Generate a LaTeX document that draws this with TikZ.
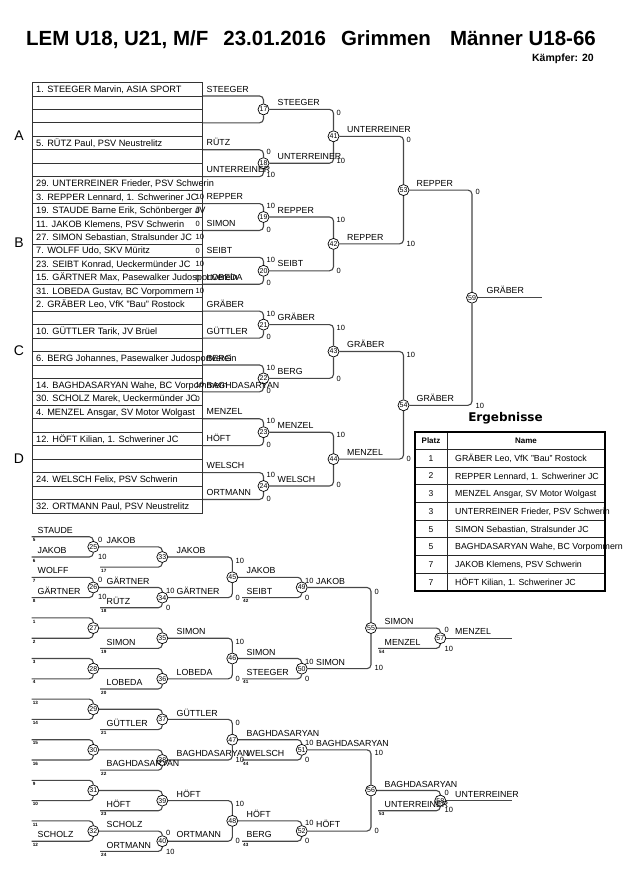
\documentclass[tikz,border=0pt]{standalone}
\usepackage{fontspec}
\setmainfont{Liberation Sans}
\newfontfamily\djv{DejaVu Sans}
\pgfdeclarelayer{bg}
\pgfsetlayers{bg,main}
\newcounter{tn}
\newcommand\GU[1]{(82.5+13.45*(#1))}
\newcommand\GL[1]{(536.7+10.15*(#1))}
\newcommand\bm[3]{\node[mc] (m#1) at (#2,{#3}) {#1};}
\newcommand\bt[4][lbl]{\stepcounter{tn}\node[#1] (t\arabic{tn}) at (#2,{#3}) {#4};}
\newcommand\bi[4]{\coordinate (#1) at (#2,{#3}); \draw[bl] (#1) -| (#4);}
\newcommand\bc[2]{\draw[bl] (#1.east) -| (#2);}
\begin{document}
\begin{tikzpicture}[x=1pt,y=-1pt,
 mc/.style={circle,draw=black,fill=white,line width=0.7pt,minimum size=11pt,inner sep=0pt,font=\fontsize{7}{7}\selectfont},
 bl/.style={draw=black!72,line width=1.1pt,rounded corners=4pt},
 lstl/.style={draw=black!80,line width=0.8pt},
 lbl/.style={anchor=west,inner sep=0pt,text height=6.3pt,text depth=0pt,font=\fontsize{8.8}{10}\selectfont},
 lst/.style={anchor=west,inner sep=0pt,text height=6.6pt,text depth=0pt,font=\fontsize{9.2}{10}\selectfont},
 sc/.style={anchor=west,inner sep=0pt,text height=5.4pt,text depth=0pt,font=\fontsize{7.5}{8}\selectfont},
 sd/.style={anchor=west,inner sep=0pt,text height=3.3pt,text depth=0pt,font=\bfseries\fontsize{4.6}{5}\selectfont},
 ttl/.style={anchor=west,inner sep=0pt,text height=14.7pt,text depth=0pt,font=\bfseries\fontsize{20.5}{24}\selectfont},
 kmp/.style={anchor=east,inner sep=0pt,text height=7.5pt,text depth=0pt,font=\bfseries\fontsize{10.5}{12}\selectfont},
 pl/.style={anchor=center,inner sep=0pt,text height=10pt,text depth=0pt,font=\fontsize{14}{16}\selectfont},
 erg/.style={anchor=center,inner sep=0pt,text height=8.8pt,text depth=0pt,font=\djv\bfseries\fontsize{12}{14}\selectfont},
 th/.style={anchor=center,inner sep=0pt,text height=5.8pt,text depth=0pt,font=\bfseries\fontsize{8}{9}\selectfont},
 tc/.style={anchor=center,inner sep=0pt,text height=6pt,text depth=0pt,font=\fontsize{8.5}{9}\selectfont},
 tname/.style={anchor=west,inner sep=0pt,text height=6.3pt,text depth=0pt,font=\fontsize{8.8}{10}\selectfont},
 tbo/.style={draw=black,line width=1.6pt},
 tbi/.style={draw=black!85,line width=0.9pt}
 ]
\useasboundingbox (0,0) rectangle (630,891);

% ---------- title ----------
\bt[ttl]{26}{38.5}{LEM U18, U21, M/F\hspace{15pt}23.01.2016\hspace{15pt}Grimmen\hspace{19pt}Männer U18-66}
\bt[kmp]{594}{58}{Kämpfer: 20}

% ---------- pool letters ----------
\bt[pl]{19}{135}{A}
\bt[pl]{19}{242}{B}
\bt[pl]{19}{350}{C}
\bt[pl]{19}{458}{D}

% ---------- list ----------
\draw[lstl] (32.5,{\GU{0}}) rectangle (202,{\GU{32}});
\foreach \k in {1,...,31} \draw[lstl] (32.5,{\GU{\k}}) -- (202,{\GU{\k}});
\bt[lst]{36}{\GU{1}-6.7}{1. STEEGER Marvin, ASIA SPORT}
\bt[lst]{36}{\GU{5}-6.7}{5. RÜTZ Paul, PSV Neustrelitz}
\bt[lst]{36}{\GU{8}-6.7}{29. UNTERREINER Frieder, PSV Schwerin}
\bt[lst]{36}{\GU{9}-6.7}{3. REPPER Lennard, 1. Schweriner JC}
\bt[lst]{36}{\GU{10}-6.7}{19. STAUDE Barne Erik, Schönberger JV}
\bt[lst]{36}{\GU{11}-6.7}{11. JAKOB Klemens, PSV Schwerin}
\bt[lst]{36}{\GU{12}-6.7}{27. SIMON Sebastian, Stralsunder JC}
\bt[lst]{36}{\GU{13}-6.7}{7. WOLFF Udo, SKV Müritz}
\bt[lst]{36}{\GU{14}-6.7}{23. SEIBT Konrad, Ueckermünder JC}
\bt[lst]{36}{\GU{15}-6.7}{15. GÄRTNER Max, Pasewalker Judosportverein}
\bt[lst]{36}{\GU{16}-6.7}{31. LOBEDA Gustav, BC Vorpommern}
\bt[lst]{36}{\GU{17}-6.7}{2. GRÄBER Leo, VfK "Bau" Rostock}
\bt[lst]{36}{\GU{19}-6.7}{10. GÜTTLER Tarik, JV Brüel}
\bt[lst]{36}{\GU{21}-6.7}{6. BERG Johannes, Pasewalker Judosportverein}
\bt[lst]{36}{\GU{23}-6.7}{14. BAGHDASARYAN Wahe, BC Vorpommern}
\bt[lst]{36}{\GU{24}-6.7}{30. SCHOLZ Marek, Ueckermünder JC}
\bt[lst]{36}{\GU{25}-6.7}{4. MENZEL Ansgar, SV Motor Wolgast}
\bt[lst]{36}{\GU{27}-6.7}{12. HÖFT Kilian, 1. Schweriner JC}
\bt[lst]{36}{\GU{30}-6.7}{24. WELSCH Felix, PSV Schwerin}
\bt[lst]{36}{\GU{32}-6.7}{32. ORTMANN Paul, PSV Neustrelitz}
% pre-round scores
\bt[sc]{195.5}{\GU{9}-6.7}{10}
\bt[sc]{195.5}{\GU{10}-6.7}{0}
\bt[sc]{195.5}{\GU{11}-6.7}{0}
\bt[sc]{195.5}{\GU{12}-6.7}{10}
\bt[sc]{195.5}{\GU{13}-6.7}{0}
\bt[sc]{195.5}{\GU{14}-6.7}{10}
\bt[sc]{195.5}{\GU{15}-6.7}{0}
\bt[sc]{195.5}{\GU{16}-6.7}{10}
\bt[sc]{195.5}{\GU{23}-6.7}{10}
\bt[sc]{195.5}{\GU{24}-6.7}{0}

% ---------- main bracket circles ----------
\bm{17}{263.5}{\GU{2}} \bm{18}{263.5}{\GU{6}} \bm{19}{263.5}{\GU{10}} \bm{20}{263.5}{\GU{14}}
\bm{21}{263.5}{\GU{18}} \bm{22}{263.5}{\GU{22}} \bm{23}{263.5}{\GU{26}} \bm{24}{263.5}{\GU{30}}
\bm{41}{333.5}{\GU{4}} \bm{42}{333.5}{\GU{12}} \bm{43}{333.5}{\GU{20}} \bm{44}{333.5}{\GU{28}}
\bm{53}{403.5}{\GU{8}} \bm{54}{403.5}{\GU{24}}
\bm{59}{472}{\GU{16}}

% ---------- repechage circles ----------
\bm{25}{93.3}{\GL{1}} \bm{26}{93.3}{\GL{5}} \bm{27}{93.3}{\GL{9}} \bm{28}{93.3}{\GL{13}}
\bm{29}{93.3}{\GL{17}} \bm{30}{93.3}{\GL{21}} \bm{31}{93.3}{\GL{25}} \bm{32}{93.3}{\GL{29}}
\bm{33}{162.3}{\GL{2}} \bm{34}{162.3}{\GL{6}} \bm{35}{162.3}{\GL{10}} \bm{36}{162.3}{\GL{14}}
\bm{37}{162.3}{\GL{18}} \bm{38}{162.3}{\GL{22}} \bm{39}{162.3}{\GL{26}} \bm{40}{162.3}{\GL{30}}
\bm{45}{232.3}{\GL{4}} \bm{46}{232.3}{\GL{12}} \bm{47}{232.3}{\GL{20}} \bm{48}{232.3}{\GL{28}}
\bm{49}{301.7}{\GL{5}} \bm{50}{301.7}{\GL{13}} \bm{51}{301.7}{\GL{21}} \bm{52}{301.7}{\GL{29}}
\bm{55}{371}{\GL{9}} \bm{56}{371}{\GL{25}}
\bm{57}{440.3}{\GL{10}} \bm{58}{440.3}{\GL{26}}

% ---------- connectors ----------
\begin{pgfonlayer}{bg}
\bi{i17a}{202}{\GU{1}}{m17.north} \bi{i17b}{202}{\GU{3}}{m17.south}
\bi{i18a}{202}{\GU{5}}{m18.north} \bi{i18b}{202}{\GU{7}}{m18.south}
\bi{i19a}{202}{\GU{9}}{m19.north} \bi{i19b}{202}{\GU{11}}{m19.south}
\bi{i20a}{202}{\GU{13}}{m20.north} \bi{i20b}{202}{\GU{15}}{m20.south}
\bi{i21a}{202}{\GU{17}}{m21.north} \bi{i21b}{202}{\GU{19}}{m21.south}
\bi{i22a}{202}{\GU{21}}{m22.north} \bi{i22b}{202}{\GU{23}}{m22.south}
\bi{i23a}{202}{\GU{25}}{m23.north} \bi{i23b}{202}{\GU{27}}{m23.south}
\bi{i24a}{202}{\GU{29}}{m24.north} \bi{i24b}{202}{\GU{31}}{m24.south}
\bc{m17}{m41.north} \bc{m18}{m41.south} \bc{m19}{m42.north} \bc{m20}{m42.south}
\bc{m21}{m43.north} \bc{m22}{m43.south} \bc{m23}{m44.north} \bc{m24}{m44.south}
\bc{m41}{m53.north} \bc{m42}{m53.south} \bc{m43}{m54.north} \bc{m44}{m54.south}
\bc{m53}{m59.north} \bc{m54}{m59.south}
\coordinate (e59) at (541.7,{\GU{16}}); \draw[bl] (m59.east) -- (e59);
% repechage col 1
\bi{j25a}{31.7}{\GL{0}}{m25.north} \bi{j25b}{31.7}{\GL{2}}{m25.south}
\bi{j26a}{31.7}{\GL{4}}{m26.north} \bi{j26b}{31.7}{\GL{6}}{m26.south}
\bi{j27a}{31.7}{\GL{8}}{m27.north} \bi{j27b}{31.7}{\GL{10}}{m27.south}
\bi{j28a}{31.7}{\GL{12}}{m28.north} \bi{j28b}{31.7}{\GL{14}}{m28.south}
\bi{j29a}{31.7}{\GL{16}}{m29.north} \bi{j29b}{31.7}{\GL{18}}{m29.south}
\bi{j30a}{31.7}{\GL{20}}{m30.north} \bi{j30b}{31.7}{\GL{22}}{m30.south}
\bi{j31a}{31.7}{\GL{24}}{m31.north} \bi{j31b}{31.7}{\GL{26}}{m31.south}
\bi{j32a}{31.7}{\GL{28}}{m32.north} \bi{j32b}{31.7}{\GL{30}}{m32.south}
% col 2
\bc{m25}{m33.north} \bi{j33b}{100}{\GL{3}}{m33.south}
\bc{m26}{m34.north} \bi{j34b}{100}{\GL{7}}{m34.south}
\bc{m27}{m35.north} \bi{j35b}{100}{\GL{11}}{m35.south}
\bc{m28}{m36.north} \bi{j36b}{100}{\GL{15}}{m36.south}
\bc{m29}{m37.north} \bi{j37b}{100}{\GL{19}}{m37.south}
\bc{m30}{m38.north} \bi{j38b}{100}{\GL{23}}{m38.south}
\bc{m31}{m39.north} \bi{j39b}{100}{\GL{27}}{m39.south}
\bc{m32}{m40.north} \bi{j40b}{100}{\GL{31}}{m40.south}
% col 3
\bc{m33}{m45.north} \bc{m34}{m45.south}
\bc{m35}{m46.north} \bc{m36}{m46.south}
\bc{m37}{m47.north} \bc{m38}{m47.south}
\bc{m39}{m48.north} \bc{m40}{m48.south}
% col 4
\bc{m45}{m49.north} \bi{j49b}{242}{\GL{6}}{m49.south}
\bc{m46}{m50.north} \bi{j50b}{242}{\GL{14}}{m50.south}
\bc{m47}{m51.north} \bi{j51b}{242}{\GL{22}}{m51.south}
\bc{m48}{m52.north} \bi{j52b}{242}{\GL{30}}{m52.south}
% col 5
\bc{m49}{m55.north} \bc{m50}{m55.south}
\bc{m51}{m56.north} \bc{m52}{m56.south}
% col 6
\bc{m55}{m57.north} \bi{j57b}{378}{\GL{11}}{m57.south}
\bc{m56}{m58.north} \bi{j58b}{378}{\GL{27}}{m58.south}
\coordinate (e57) at (511.7,{\GL{10}}); \draw[bl] (m57.east) -- (e57);
\coordinate (e58) at (511.7,{\GL{26}}); \draw[bl] (m58.east) -- (e58);
\end{pgfonlayer}

% ---------- main bracket labels ----------
\bt{206.5}{\GU{1}-7}{STEEGER}
\bt{206.5}{\GU{5}-7}{RÜTZ}
\bt{206.5}{\GU{7}-7}{UNTERREINER}
\bt{206.5}{\GU{9}-7}{REPPER}
\bt{206.5}{\GU{11}-7}{SIMON}
\bt{206.5}{\GU{13}-7}{SEIBT}
\bt{206.5}{\GU{15}-7}{LOBEDA}
\bt{206.5}{\GU{17}-7}{GRÄBER}
\bt{206.5}{\GU{19}-7}{GÜTTLER}
\bt{206.5}{\GU{21}-7}{BERG}
\bt{206.5}{\GU{23}-7}{BAGHDASARYAN}
\bt{206.5}{\GU{25}-7}{MENZEL}
\bt{206.5}{\GU{27}-7}{HÖFT}
\bt{206.5}{\GU{29}-7}{WELSCH}
\bt{206.5}{\GU{31}-7}{ORTMANN}
\bt{277.5}{\GU{2}-7}{STEEGER}
\bt{277.5}{\GU{6}-7}{UNTERREINER}
\bt{277.5}{\GU{10}-7}{REPPER}
\bt{277.5}{\GU{14}-7}{SEIBT}
\bt{277.5}{\GU{18}-7}{GRÄBER}
\bt{277.5}{\GU{22}-7}{BERG}
\bt{277.5}{\GU{26}-7}{MENZEL}
\bt{277.5}{\GU{30}-7}{WELSCH}
\bt{347}{\GU{4}-7}{UNTERREINER}
\bt{347}{\GU{12}-7}{REPPER}
\bt{347}{\GU{20}-7}{GRÄBER}
\bt{347}{\GU{28}-7}{MENZEL}
\bt{416.5}{\GU{8}-7}{REPPER}
\bt{416.5}{\GU{24}-7}{GRÄBER}
\bt{486.5}{\GU{16}-7}{GRÄBER}

% ---------- main bracket scores ----------
\bt[sc]{266.5}{\GU{5}+2.5}{0}  \bt[sc]{266.5}{\GU{7}-1.5}{10}
\bt[sc]{266.5}{\GU{9}+2.5}{10} \bt[sc]{266.5}{\GU{11}-1}{0}
\bt[sc]{266.5}{\GU{13}+2.5}{10} \bt[sc]{266.5}{\GU{15}-1}{0}
\bt[sc]{266.5}{\GU{17}+2.5}{10} \bt[sc]{266.5}{\GU{19}-1}{0}
\bt[sc]{266.5}{\GU{21}+2.5}{10} \bt[sc]{266.5}{\GU{23}-1}{0}
\bt[sc]{266.5}{\GU{25}+2.5}{10} \bt[sc]{266.5}{\GU{27}-1}{0}
\bt[sc]{266.5}{\GU{29}+2.5}{10} \bt[sc]{266.5}{\GU{31}-1}{0}
\bt[sc]{336.5}{\GU{2}+3}{0}   \bt[sc]{336.5}{\GU{6}-2.5}{10}
\bt[sc]{336.5}{\GU{10}+3}{10} \bt[sc]{336.5}{\GU{14}}{0}
\bt[sc]{336.5}{\GU{18}+3}{10} \bt[sc]{336.5}{\GU{22}}{0}
\bt[sc]{336.5}{\GU{26}+3}{10} \bt[sc]{336.5}{\GU{30}-1}{0}
\bt[sc]{406.5}{\GU{4}+3}{0}   \bt[sc]{406.5}{\GU{12}}{10}
\bt[sc]{406.5}{\GU{20}+3}{10} \bt[sc]{406.5}{\GU{28}}{0}
\bt[sc]{475.5}{\GU{8}+2}{0}   \bt[sc]{475.5}{\GU{24}}{10}

% ---------- repechage labels ----------
\bt{37.5}{\GL{0}-6.5}{STAUDE}
\bt{37.5}{\GL{2}-6.5}{JAKOB}
\bt{37.5}{\GL{4}-6.5}{WOLFF}
\bt{37.5}{\GL{6}-6.5}{GÄRTNER}
\bt{37.5}{\GL{30}-6.5}{SCHOLZ}
\bt{106.5}{\GL{1}-6.5}{JAKOB}
\bt{106.5}{\GL{5}-6.5}{GÄRTNER}
\bt{106.5}{\GL{7}-6.5}{RÜTZ}
\bt{106.5}{\GL{11}-6.5}{SIMON}
\bt{106.5}{\GL{15}-6.5}{LOBEDA}
\bt{106.5}{\GL{19}-6.5}{GÜTTLER}
\bt{106.5}{\GL{23}-6.5}{BAGHDASARYAN}
\bt{106.5}{\GL{27}-6.5}{HÖFT}
\bt{106.5}{\GL{29}-6.5}{SCHOLZ}
\bt{106.5}{\GL{31}-6.5}{ORTMANN}
\bt{176.5}{\GL{2}-6.5}{JAKOB}
\bt{176.5}{\GL{6}-6.5}{GÄRTNER}
\bt{176.5}{\GL{10}-6.5}{SIMON}
\bt{176.5}{\GL{14}-6.5}{LOBEDA}
\bt{176.5}{\GL{18}-6.5}{GÜTTLER}
\bt{176.5}{\GL{22}-6.5}{BAGHDASARYAN}
\bt{176.5}{\GL{26}-6.5}{HÖFT}
\bt{176.5}{\GL{30}-6.5}{ORTMANN}
\bt{246.5}{\GL{4}-6.5}{JAKOB}
\bt{246.5}{\GL{6}-6.5}{SEIBT}
\bt{246.5}{\GL{12}-6.5}{SIMON}
\bt{246.5}{\GL{14}-6.5}{STEEGER}
\bt{246.5}{\GL{20}-6.5}{BAGHDASARYAN}
\bt{246.5}{\GL{22}-6.5}{WELSCH}
\bt{246.5}{\GL{28}-6.5}{HÖFT}
\bt{246.5}{\GL{30}-6.5}{BERG}
\bt{316}{\GL{5}-6.5}{JAKOB}
\bt{316}{\GL{13}-6.5}{SIMON}
\bt{316}{\GL{21}-6.5}{BAGHDASARYAN}
\bt{316}{\GL{29}-6.5}{HÖFT}
\bt{384.5}{\GL{9}-6.5}{SIMON}
\bt{384.5}{\GL{11}-6.5}{MENZEL}
\bt{384.5}{\GL{25}-6.5}{BAGHDASARYAN}
\bt{384.5}{\GL{27}-6.5}{UNTERREINER}
\bt{455}{\GL{10}-6.5}{MENZEL}
\bt{455}{\GL{26}-6.5}{UNTERREINER}

% ---------- repechage seed numbers ----------
\bt[sd]{32.7}{\GL{0}+3.5}{5}  \bt[sd]{32.7}{\GL{2}+3.5}{6}
\bt[sd]{32.7}{\GL{4}+3.5}{7}  \bt[sd]{32.7}{\GL{6}+3.5}{8}
\bt[sd]{32.7}{\GL{8}+3.5}{1}  \bt[sd]{32.7}{\GL{10}+3.5}{2}
\bt[sd]{32.7}{\GL{12}+3.5}{3} \bt[sd]{32.7}{\GL{14}+3.5}{4}
\bt[sd]{32.7}{\GL{16}+3.5}{13} \bt[sd]{32.7}{\GL{18}+3.5}{14}
\bt[sd]{32.7}{\GL{20}+3.5}{15} \bt[sd]{32.7}{\GL{22}+3.5}{16}
\bt[sd]{32.7}{\GL{24}+3.5}{9}  \bt[sd]{32.7}{\GL{26}+3.5}{10}
\bt[sd]{32.7}{\GL{28}+3.5}{11} \bt[sd]{32.7}{\GL{30}+3.5}{12}
\bt[sd]{101}{\GL{3}+3.5}{17}  \bt[sd]{101}{\GL{7}+3.5}{18}
\bt[sd]{101}{\GL{11}+3.5}{19} \bt[sd]{101}{\GL{15}+3.5}{20}
\bt[sd]{101}{\GL{19}+3.5}{21} \bt[sd]{101}{\GL{23}+3.5}{22}
\bt[sd]{101}{\GL{27}+3.5}{23} \bt[sd]{101}{\GL{31}+3.5}{24}
\bt[sd]{243}{\GL{6}+3.5}{42}  \bt[sd]{243}{\GL{14}+3.5}{41}
\bt[sd]{243}{\GL{22}+3.5}{44} \bt[sd]{243}{\GL{30}+3.5}{43}
\bt[sd]{379}{\GL{11}+3.5}{54} \bt[sd]{379}{\GL{27}+3.5}{53}

% ---------- repechage scores ----------
\bt[sc]{98}{\GL{0}+2.6}{0}   \bt[sc]{98}{\GL{2}-0.5}{10}
\bt[sc]{98}{\GL{4}+2.6}{0}   \bt[sc]{98}{\GL{6}-0.5}{10}
\bt[sc]{166}{\GL{5}+3}{10}   \bt[sc]{166}{\GL{7}}{0}
\bt[sc]{166}{\GL{29}+2}{0}   \bt[sc]{166}{\GL{31}}{10}
\bt[sc]{235.5}{\GL{2}+3.5}{10} \bt[sc]{235.5}{\GL{6}}{0}
\bt[sc]{235.5}{\GL{10}+3.5}{10} \bt[sc]{235.5}{\GL{14}}{0}
\bt[sc]{235.5}{\GL{18}+3}{0}  \bt[sc]{235.5}{\GL{22}}{10}
\bt[sc]{235.5}{\GL{26}+3}{10} \bt[sc]{235.5}{\GL{30}}{0}
\bt[sc]{305}{\GL{4}+3}{10}  \bt[sc]{305}{\GL{6}}{0}
\bt[sc]{305}{\GL{12}+3}{10} \bt[sc]{305}{\GL{14}}{0}
\bt[sc]{305}{\GL{20}+3}{10} \bt[sc]{305}{\GL{22}}{0}
\bt[sc]{305}{\GL{28}+2}{10} \bt[sc]{305}{\GL{30}}{0}
\bt[sc]{374.5}{\GL{5}+4}{0}   \bt[sc]{374.5}{\GL{13}-1}{10}
\bt[sc]{374.5}{\GL{21}+3}{10} \bt[sc]{374.5}{\GL{29}}{0}
\bt[sc]{444.5}{\GL{9}+2}{0}   \bt[sc]{444.5}{\GL{11}}{10}
\bt[sc]{444.5}{\GL{25}+2}{0}  \bt[sc]{444.5}{\GL{27}-1}{10}

% ---------- results table ----------
\bt[erg]{505.5}{417}{Ergebnisse}
\foreach \r in {0,...,7} \draw[tbi] (415,{449.3+17.7*\r}) -- (605,{449.3+17.7*\r});
\draw[tbi] (447.3,431.7) -- (447.3,591);
\draw[tbo] (415,431.7) rectangle (605,591);
\bt[th]{431}{440.5}{Platz}
\bt[th]{526}{440.5}{Name}
\bt[tc]{431}{458.2}{1} \bt[tname]{455}{458.2}{GRÄBER Leo, VfK "Bau" Rostock}
\bt[tc]{431}{475.9}{2} \bt[tname]{455}{475.9}{REPPER Lennard, 1. Schweriner JC}
\bt[tc]{431}{493.6}{3} \bt[tname]{455}{493.6}{MENZEL Ansgar, SV Motor Wolgast}
\bt[tc]{431}{511.3}{3} \bt[tname]{455}{511.3}{UNTERREINER Frieder, PSV Schwerin}
\bt[tc]{431}{529.0}{5} \bt[tname]{455}{529.0}{SIMON Sebastian, Stralsunder JC}
\bt[tc]{431}{546.7}{5} \bt[tname]{455}{546.7}{BAGHDASARYAN Wahe, BC Vorpommern}
\bt[tc]{431}{564.4}{7} \bt[tname]{455}{564.4}{JAKOB Klemens, PSV Schwerin}
\bt[tc]{431}{582.1}{7} \bt[tname]{455}{582.1}{HÖFT Kilian, 1. Schweriner JC}
\end{tikzpicture}
\end{document}
